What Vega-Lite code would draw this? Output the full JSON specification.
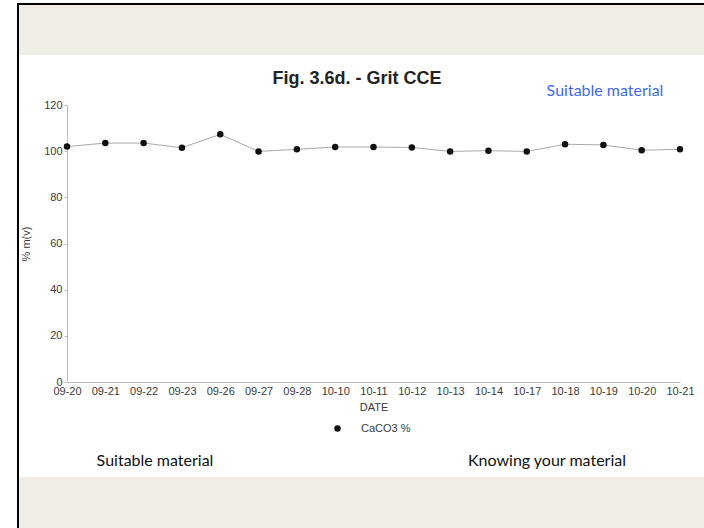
{
  "$schema": "https://vega.github.io/schema/vega-lite/v6.json",
  "padding": 0,
  "background": "white",
  "spacing": 0,
  "config": {"view": {"stroke": null}, "concat": {"spacing": 0}, "font": "Liberation Sans"},
  "hconcat": [
    {"width": 17, "height": 528, "data": {"values": []}, "mark": "point"},
    {"spacing": 0, "vconcat": [
      {"width": 2, "height": 3, "data": {"values": []}, "mark": "point"},
      {"width": 2, "height": 525, "data": {"values": []}, "mark": "point", "view": {"fill": "#000000", "stroke": null}}
    ]},
    {"spacing": 0, "vconcat": [
      {"width": 685, "height": 3, "data": {"values": []}, "mark": "point"},
      {"width": 685, "height": 2, "data": {"values": []}, "mark": "point", "view": {"fill": "#000000", "stroke": null}},
      {"width": 685, "height": 50, "data": {"values": []}, "mark": "point", "view": {"fill": "#f0ede7", "stroke": null}},
      {"spacing": 0, "hconcat": [
        {"width": 238, "height": 44, "data": {"values": []}, "mark": "point"},
        {"spacing": 0, "vconcat": [
          {"width": 200, "height": 14, "data": {"values": []}, "mark": "point"},
          {"width": 200, "height": 20, "data": {"values": [{"t": "Fig. 3.6d. - Grit CCE"}]},
           "mark": {"type": "text", "font": "Liberation Sans", "fontSize": 18, "fontWeight": "bold", "color": "#222222", "align": "center", "baseline": "middle"},
           "encoding": {"text": {"field": "t"}}}
        ]},
        {"width": 78, "height": 44, "data": {"values": []}, "mark": "point"},
        {"spacing": 0, "vconcat": [
          {"width": 140, "height": 28, "data": {"values": []}, "mark": "point"},
          {"width": 140, "height": 16, "data": {"values": [{"t": "Suitable material"}]},
           "mark": {"type": "text", "font": "Lato", "fontSize": 16, "color": "#4169ee", "align": "center", "baseline": "middle"},
           "encoding": {"text": {"field": "t"}}}
        ]},
        {"width": 29, "height": 44, "data": {"values": []}, "mark": "point"}
      ]},
      {"spacing": 0, "hconcat": [
        {"width": 1, "height": 277, "data": {"values": []}, "mark": "point"},
        {
          "width": 613,
          "height": 277,
          "data": {"values": [
            {"date": "09-20", "caco3": 102.0, "series": "CaCO3 %"},
            {"date": "09-21", "caco3": 103.5, "series": "CaCO3 %"},
            {"date": "09-22", "caco3": 103.5, "series": "CaCO3 %"},
            {"date": "09-23", "caco3": 101.5, "series": "CaCO3 %"},
            {"date": "09-26", "caco3": 107.3, "series": "CaCO3 %"},
            {"date": "09-27", "caco3": 99.9, "series": "CaCO3 %"},
            {"date": "09-28", "caco3": 100.8, "series": "CaCO3 %"},
            {"date": "10-10", "caco3": 101.8, "series": "CaCO3 %"},
            {"date": "10-11", "caco3": 101.8, "series": "CaCO3 %"},
            {"date": "10-12", "caco3": 101.6, "series": "CaCO3 %"},
            {"date": "10-13", "caco3": 99.9, "series": "CaCO3 %"},
            {"date": "10-14", "caco3": 100.2, "series": "CaCO3 %"},
            {"date": "10-17", "caco3": 99.9, "series": "CaCO3 %"},
            {"date": "10-18", "caco3": 103.0, "series": "CaCO3 %"},
            {"date": "10-19", "caco3": 102.7, "series": "CaCO3 %"},
            {"date": "10-20", "caco3": 100.4, "series": "CaCO3 %"},
            {"date": "10-21", "caco3": 100.8, "series": "CaCO3 %"}
          ]},
          "encoding": {
            "x": {"field": "date", "type": "ordinal", "sort": null,
                  "scale": {"type": "point", "padding": 0},
                  "axis": {"title": "DATE", "labelAngle": 0, "ticks": false, "labelPadding": 3,
                           "labelFont": "Liberation Sans", "labelFontSize": 11, "labelColor": "#3a3a3a",
                           "titleFont": "Liberation Sans", "titleFontSize": 11, "titleFontWeight": "normal", "titleColor": "#3a3a3a", "titlePadding": 5,
                           "domainColor": "#bbbbbb", "labelOverlap": false}},
            "y": {"field": "caco3", "type": "quantitative",
                  "scale": {"domain": [0, 120], "nice": false},
                  "axis": {"title": "% m(v)", "values": [0, 20, 40, 60, 80, 100, 120], "grid": false,
                           "tickSize": 3, "labelPadding": 2, "tickColor": "#bbbbbb", "domainColor": "#bbbbbb",
                           "labelFont": "Liberation Sans", "labelFontSize": 11, "labelColor": "#3a3a3a",
                           "titleFont": "Liberation Sans", "titleFontSize": 11, "titleFontWeight": "normal", "titleColor": "#3a3a3a", "titlePadding": 12}}
          },
          "layer": [
            {"mark": {"type": "line", "color": "#aaaaaa", "strokeWidth": 1}},
            {"mark": {"type": "point", "filled": true, "size": 42, "opacity": 1},
             "encoding": {"color": {"field": "series", "type": "nominal", "scale": {"range": ["#111111"]},
                                    "legend": {"title": null, "orient": "none", "legendX": 332, "legendY": 423, "padding": 0,
                                               "labelOffset": 18, "labelFont": "Liberation Sans", "labelFontSize": 11, "labelColor": "#3a3a3a",
                                               "symbolType": "circle", "symbolSize": 42}}}}
          ]
        }
      ]},
      {"spacing": 0, "hconcat": [
        {"width": 66, "height": 65, "data": {"values": []}, "mark": "point"},
        {"spacing": 0, "vconcat": [
          {"width": 140, "height": 41, "data": {"values": []}, "mark": "point"},
          {"width": 140, "height": 16, "data": {"values": [{"t": "Suitable material"}]},
           "mark": {"type": "text", "font": "Lato", "fontSize": 16, "color": "#111111", "align": "center", "baseline": "middle"},
           "encoding": {"text": {"field": "t"}}}
        ]},
        {"width": 232, "height": 65, "data": {"values": []}, "mark": "point"},
        {"spacing": 0, "vconcat": [
          {"width": 180, "height": 41, "data": {"values": []}, "mark": "point"},
          {"width": 180, "height": 16, "data": {"values": [{"t": "Knowing your material"}]},
           "mark": {"type": "text", "font": "Lato", "fontSize": 16, "color": "#111111", "align": "center", "baseline": "middle"},
           "encoding": {"text": {"field": "t"}}}
        ]},
        {"width": 67, "height": 65, "data": {"values": []}, "mark": "point"}
      ]},
      {"width": 685, "height": 51, "data": {"values": []}, "mark": "point", "view": {"fill": "#f0ede7", "stroke": null}}
    ]}
  ]
}
